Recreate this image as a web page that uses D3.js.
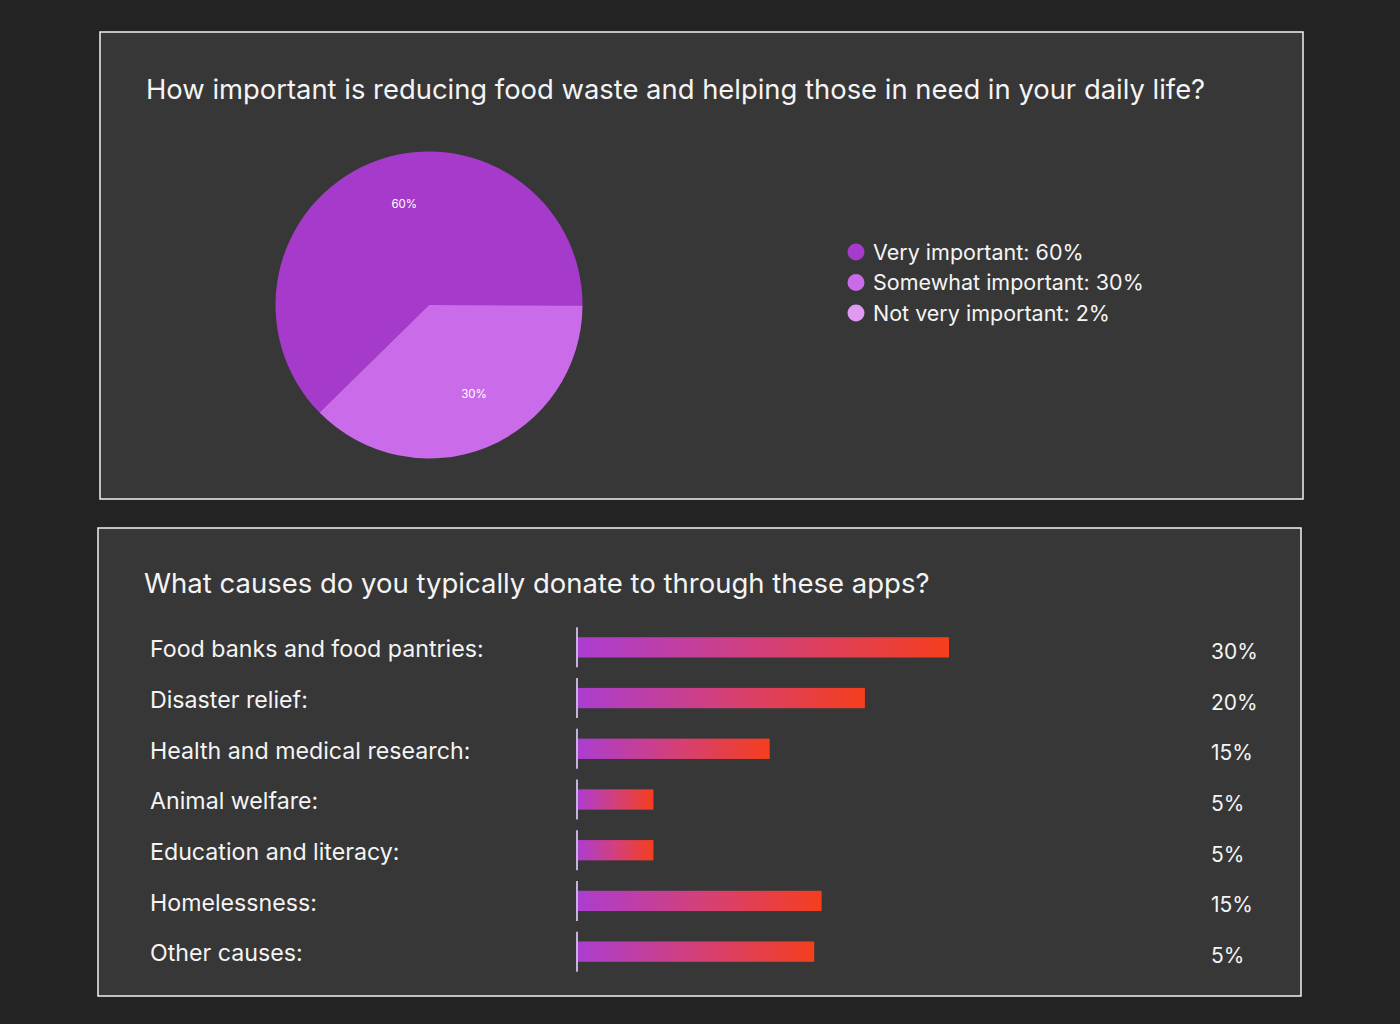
<!DOCTYPE html>
<html>
<head>
<meta charset="utf-8">
<script src="https://cdn.jsdelivr.net/npm/d3@7"></script>
<style>
  html, body { margin: 0; padding: 0; background: #232323; }
  svg { display: block; font-family: Inter, "Noto Sans", sans-serif; }
</style>
</head>
<body>
<div id="chart"></div>
<script>
// pie: question 1
var pieLabels = ['Very important', 'Somewhat important', 'Not very important'];
var pieValues = [60, 30, 2];            // values shown in legend / slice labels
var pieShares = [62.4, 37.6, 0];        // slice sizes as drawn in the picture
var pieColors = ['#a63acb', '#ca6be9', '#e09af2'];

// bars: question 2
var causes = ['Food banks and food pantries:', 'Disaster relief:', 'Health and medical research:',
  'Animal welfare:', 'Education and literacy:', 'Homelessness:', 'Other causes:'];
var causeLabels = ['30%', '20%', '15%', '5%', '5%', '15%', '5%'];
var causeBars = [30, 23.2, 15.5, 6.1, 6.1, 19.7, 19.1]; // bar lengths as drawn

;(function(d3){
  var W = 1400, H = 1024;

  var svg = d3.select('#chart')
    .append('svg')
      .attr('width', W)
      .attr('height', H);

  svg.append('rect')
    .attr('width', W).attr('height', H)
    .attr('fill', '#232323');

  function panel(x, y, w, h){
    svg.append('rect')
      .attr('x', x).attr('y', y)
      .attr('width', w).attr('height', h)
      .attr('fill', '#373737')
      .attr('stroke', '#f2f2f2')
      .attr('stroke-width', 1.5);
  }

  panel(100, 32, 1203, 467);
  panel(98, 528, 1203, 468);

  // ---- pie ----
  svg.append('text')
    .attr('x', 146).attr('y', 99)
    .attr('fill', '#f4f4f4')
    .attr('font-size', 27.4)
    .text('How important is reducing food waste and helping those in need in your daily life?');

  var r = 153.5;
  var g = svg.append('g')
    .attr('transform', 'translate(429,305)');

  var pie = d3.pie()
    .sort(null)
    .startAngle(225.5 * Math.PI / 180)
    .endAngle(225.5 * Math.PI / 180 + 2 * Math.PI);

  var arc = d3.arc().innerRadius(0).outerRadius(r);

  var arcs = pie(pieShares);

  g.selectAll('path')
    .data(arcs)
    .enter().append('path')
      .attr('d', arc)
      .attr('fill', function(d, i){ return pieColors[i]; });

  // labels are not quite at the slice middle, nudge them
  var nudge = [0.147, -0.08], labelR = [104, 100];

  g.selectAll('text')
    .data(arcs.filter(function(d){ return d.value > 0; }))
    .enter().append('text')
      .attr('transform', function(d){
        var a = (d.startAngle + d.endAngle) / 2 + nudge[d.index];
        var lr = labelR[d.index];
        return 'translate(' + (Math.sin(a) * lr) + ',' + (-Math.cos(a) * lr) + ')';
      })
      .attr('text-anchor', 'middle')
      .attr('dy', '0.35em')
      .attr('fill', '#ffffff')
      .attr('font-size', 11.5)
      .text(function(d){ return pieValues[d.index] + '%'; });

  var legend = svg.append('g')
    .attr('transform', 'translate(856,252)');

  var item = legend.selectAll('g')
    .data(pieLabels)
    .enter().append('g')
      .attr('transform', function(d, i){ return 'translate(0,' + (i * 30.5) + ')'; });

  item.append('circle')
    .attr('r', 8.5)
    .attr('fill', function(d, i){ return pieColors[i]; });

  item.append('text')
    .attr('x', 17)
    .attr('dy', '0.36em')
    .attr('fill', '#f4f4f4')
    .attr('font-size', 21.5)
    .text(function(d, i){ return d + ': ' + pieValues[i] + '%'; });

  // ---- bars ----
  svg.append('text')
    .attr('x', 144).attr('y', 593)
    .attr('fill', '#f4f4f4')
    .attr('font-size', 27.5)
    .text('What causes do you typically donate to through these apps?');

  var x = d3.scaleLinear()
    .domain([0, d3.max(causeBars)])
    .range([578, 949]);

  var y = d3.scaleBand()
    .domain(causes)
    .range([622, 977])
    .paddingInner(0.6)
    .paddingOuter(0.3);

  var grad = svg.append('defs')
    .append('linearGradient')
      .attr('id', 'barGrad')
      .attr('x1', 0).attr('x2', 1).attr('y1', 0).attr('y2', 0);
  grad.append('stop').attr('offset', '0%').attr('stop-color', '#ab3dd0');
  grad.append('stop').attr('offset', '50%').attr('stop-color', '#d3407a');
  grad.append('stop').attr('offset', '100%').attr('stop-color', '#f53e1d');

  var row = svg.selectAll('g.row')
    .data(causes)
    .enter().append('g')
      .attr('class', 'row');

  row.append('rect')
    .attr('x', x(0))
    .attr('y', function(d){ return y(d); })
    .attr('height', y.bandwidth())
    .attr('width', function(d, i){ return x(causeBars[i]) - x(0); })
    .attr('fill', 'url(#barGrad)');

  row.append('line')
    .attr('x1', 577).attr('x2', 577)
    .attr('y1', function(d){ return y(d) + y.bandwidth() / 2 - 20; })
    .attr('y2', function(d){ return y(d) + y.bandwidth() / 2 + 20; })
    .attr('stroke', '#c8b0df')
    .attr('stroke-width', 2);

  row.append('text')
    .attr('x', 150)
    .attr('y', function(d){ return y(d) + y.bandwidth() / 2 + 1.5; })
    .attr('dy', '0.36em')
    .attr('fill', '#f4f4f4')
    .attr('font-size', 23.2)
    .text(function(d){ return d; });

  row.append('text')
    .attr('x', 1211)
    .attr('y', function(d){ return y(d) + y.bandwidth() / 2 + 4; })
    .attr('dy', '0.36em')
    .attr('fill', '#f4f4f4')
    .attr('font-size', 21)
    .text(function(d, i){ return causeLabels[i]; });
})(d3);
</script>
</body>
</html>
